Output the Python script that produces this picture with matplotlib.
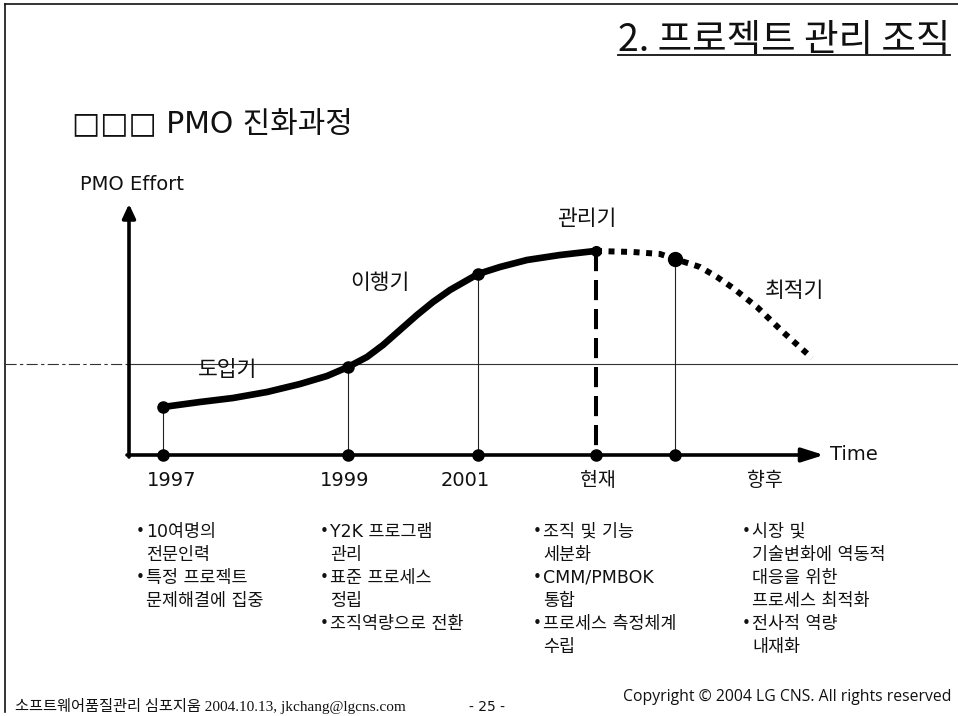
import matplotlib
matplotlib.use('Agg')
import matplotlib.pyplot as plt

# stage curve (x = time position, y = effort, screen units)
curve_x = [163, 200, 233, 267, 300, 327, 348, 367, 383, 400, 417, 433, 450,
           478, 500, 527, 560, 595]
curve_y = [407, 402, 398, 392, 384, 376, 367, 357, 345, 330, 315, 302, 290,
           274, 267, 260, 255, 251]
future_x = [596, 633, 660, 675, 700, 717, 733, 757, 783, 812]
future_y = [251, 252, 254, 259, 267, 277, 288, 307, 332, 358]

milestone_x = [163, 348, 478, 596, 675]
milestone_y = [407, 367, 274, 251, 259]

tick_labels = ['1997', '1999', '2001', '현재', '향후']
tick_x = [172, 345, 465, 598, 765]

stages = ['도입기', '이행기', '관리기', '최적기']
stage_x = [228, 380, 587, 794]
stage_y = [370, 283, 219, 291]

col_x = [136, 320, 533, 742]
col_lines = [
    ['•10여명의', '전문인력', '•특정 프로젝트', '문제해결에 집중'],
    ['•Y2K 프로그램', '관리', '•표준 프로세스', '정립', '•조직역량으로 전환'],
    ['•조직 및 기능', '세분화', '•CMM/PMBOK', '통합', '•프로세스 측정체계', '수립'],
    ['•시장 및', '기술변화에 역동적', '대응을 위한', '프로세스 최적화',
     '•전사적 역량', '내재화'],
]

KR = ['Noto Sans CJK KR', 'DejaVu Sans']
MIX = ['DejaVu Sans', 'Noto Sans CJK KR']
INK = '#111111'

fig = plt.figure(figsize=(9.58, 7.16), dpi=100)
ax = fig.add_axes([0, 0, 1, 1])
ax.set_xlim(0, 958)
ax.set_ylim(716, 0)
ax.axis('off')

# slide frame
ax.plot([5, 958], [4, 4], color=INK, lw=1.2)
ax.plot([5, 5], [4, 712], color=INK, lw=1.2)

# title with underline
title = ax.text(950, 51, '2. 프로젝트 관리 조직', fontsize=27, family=KR,
                ha='right', va='baseline', color=INK)
fig.canvas.draw()
bb = title.get_window_extent(fig.canvas.get_renderer())
x0 = ax.transData.inverted().transform((bb.x0, bb.y0))[0]
ax.plot([x0, 950], [55, 55], color=INK, lw=1.3)

ax.text(72, 124, '□□□ PMO 진화과정', fontsize=21.5, family=MIX,
        ha='left', va='center', color=INK)
ax.text(80, 185, 'PMO Effort', fontsize=14, family=MIX, ha='left',
        va='center', color=INK)

# reference line across the slide
ax.plot([5, 128], [364, 364], color='#333333', lw=0.8, ls=(0, (10, 3, 3, 3)))
ax.plot([128, 958], [364, 364], color='#333333', lw=0.8)

# axes with arrows
ax.annotate('', xy=(129, 204), xytext=(129, 457),
            arrowprops=dict(arrowstyle='-|>,head_length=0.6,head_width=0.28',
                            lw=2.6, color='black', mutation_scale=14,
                            shrinkA=0, shrinkB=0))
ax.annotate('', xy=(824, 455), xytext=(127, 455),
            arrowprops=dict(arrowstyle='-|>,head_length=0.95,head_width=0.3',
                            lw=2.6, color='black', mutation_scale=14,
                            shrinkA=0, shrinkB=0))
ax.text(830, 455, 'Time', fontsize=14, family=MIX, ha='left', va='center',
        color=INK)

# drop lines from the curve
for i, (mx, my) in enumerate(zip(milestone_x, milestone_y)):
    if tick_labels[i] == '현재':
        ax.plot([mx, mx], [my, 455], color='black', lw=2.9, ls=(0, (5, 2.2)),
                zorder=3)
    else:
        ax.plot([mx, mx], [my, 455], color='#222222', lw=0.8, zorder=2)

ax.plot(curve_x, curve_y, color='black', lw=4.8, solid_capstyle='round',
        solid_joinstyle='round', zorder=4)
ax.plot(future_x, future_y, color='black', lw=4.3, ls=(0, (1, 1.1)),
        dash_capstyle='butt', zorder=4)

sizes = [8, 8, 8, 7, 10]
for mx, my, s in zip(milestone_x, milestone_y, sizes):
    ax.plot(mx, my, 'o', color='black', ms=s, zorder=5)
    ax.plot(mx, 455, 'o', color='black', ms=8, zorder=5)

for lab, tx in zip(tick_labels, tick_x):
    ax.text(tx, 481, lab, fontsize=14, family=MIX, ha='center', va='center',
            color=INK)

for lab, sx, sy in zip(stages, stage_x, stage_y):
    ax.text(sx, sy, lab, fontsize=15.5, family=KR, ha='center', va='center',
            color=INK)

# description columns
for cx, lines in zip(col_x, col_lines):
    for j, line in enumerate(lines):
        y = 532 + j * 23
        if line.startswith('•'):
            ax.text(cx, y, '•', fontsize=11, family=MIX, ha='left',
                    va='center', color=INK)
            line = line[1:]
        ax.text(cx + 10, y, line, fontsize=12.5, family=MIX, ha='left',
                va='center', color=INK)

# footer
ax.text(15, 706, '소프트웨어품질관리 심포지움 2004.10.13, jkchang@lgcns.com',
        fontsize=11, family=['Liberation Serif', 'Noto Sans CJK KR'],
        ha='left', va='center', color=INK)
ax.text(487, 707, '- 25 -', fontsize=10, family=MIX, ha='center',
        va='center', color=INK)
ax.text(623, 697, 'Copyright © 2004 LG CNS. All rights reserved',
        fontsize=11.3, family=['Open Sans', 'DejaVu Sans'], ha='left',
        va='center', color=INK)

fig.savefig('out.png', dpi=100)
